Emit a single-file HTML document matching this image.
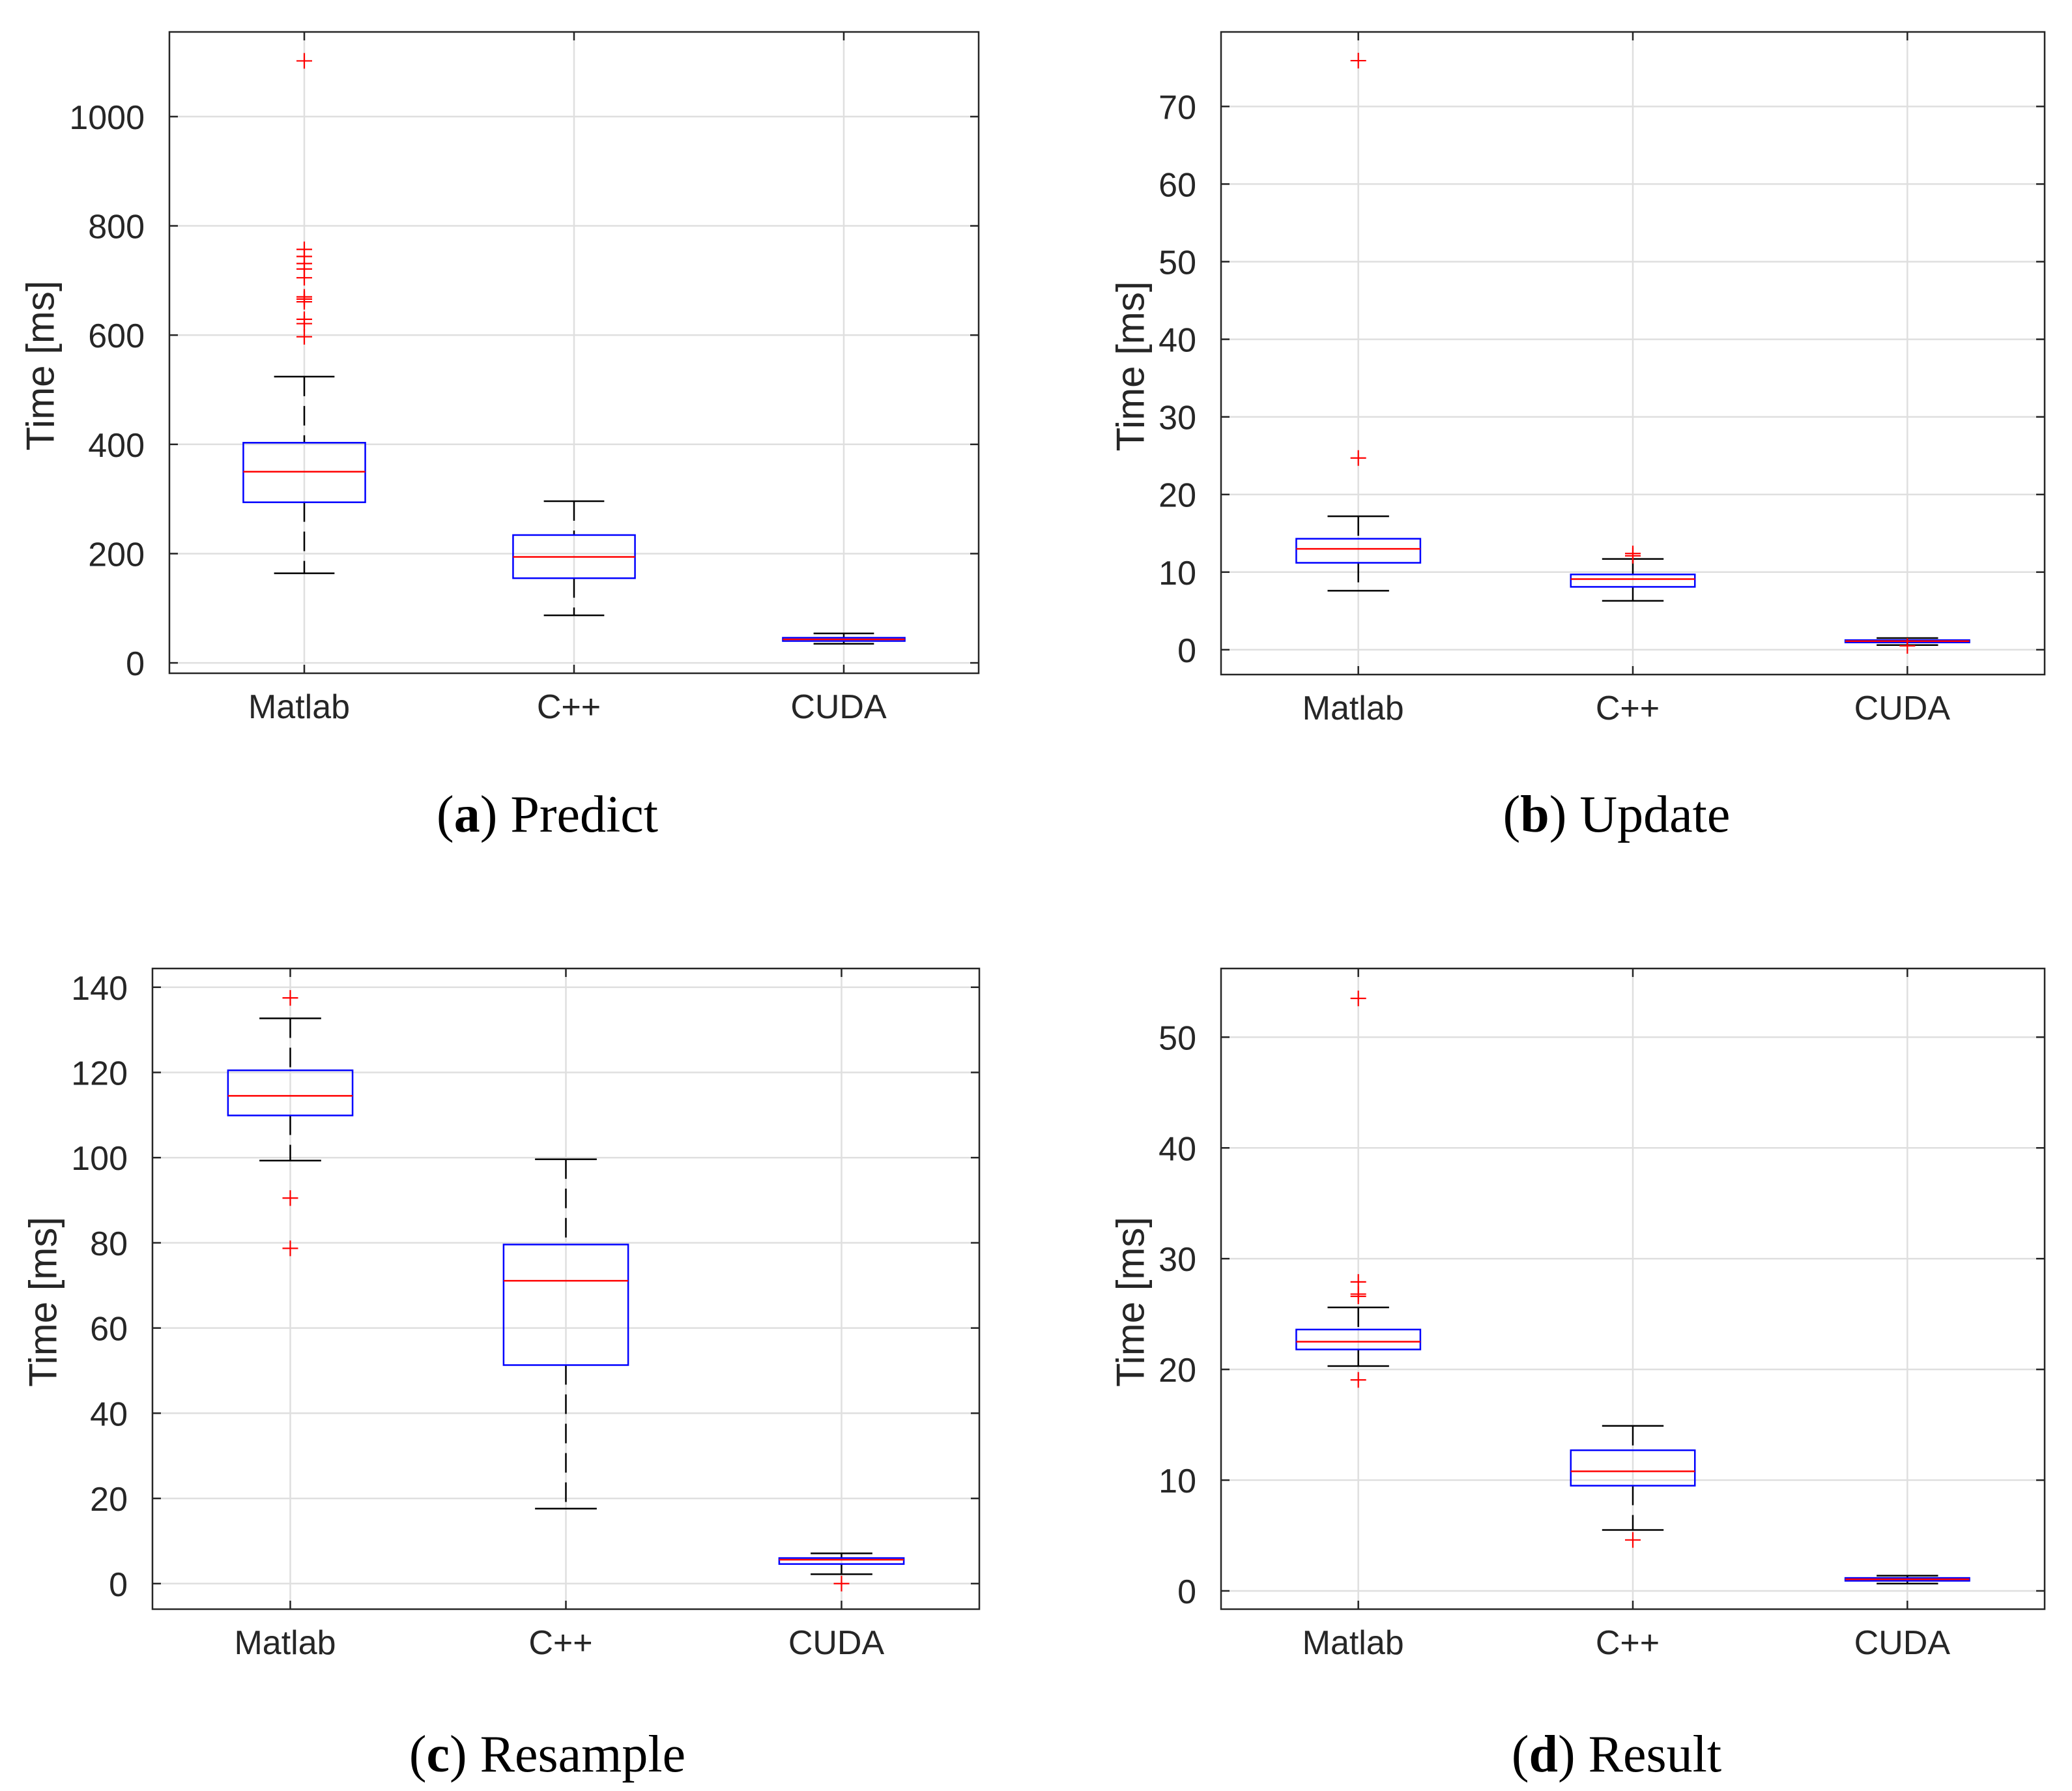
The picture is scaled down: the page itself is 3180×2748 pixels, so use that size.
<!DOCTYPE html>
<html><head><meta charset="utf-8">
<style>
html,body{margin:0;padding:0;background:#fff;}
svg{display:block;}
</style></head>
<body>
<svg id="fig" xmlns="http://www.w3.org/2000/svg" width="3180" height="2748" viewBox="0 0 3180 2748">
<rect x="0" y="0" width="3180" height="2748" fill="#fff"/>
</svg>
<script>
// ---------- data ----------
const categories = ["Matlab", "C++", "CUDA"];

const predictLow = [164, 87, 35];
const predictQ1 = [294, 155, 40];
const predictMedian = [350, 194, 43];
const predictQ3 = [403, 234, 46];
const predictHigh = [524, 296, 54];
const predictOutliers = [[1102, 757, 744, 731, 721, 705, 670, 666, 661, 629, 621, 597], [], []];
const predictTicks = [0, 200, 400, 600, 800, 1000];

const updateLow = [7.6, 6.3, 0.6];
const updateQ1 = [11.2, 8.1, 0.94];
const updateMedian = [13.0, 9.1, 1.1];
const updateQ3 = [14.3, 9.7, 1.24];
const updateHigh = [17.2, 11.7, 1.5];
const updateOutliers = [[75.9, 24.7], [12.4, 12.1], [0.5]];
const updateTicks = [0, 10, 20, 30, 40, 50, 60, 70];

const resampleLow = [99.3, 17.6, 2.2];
const resampleQ1 = [109.9, 51.3, 4.6];
const resampleMedian = [114.5, 71.1, 5.6];
const resampleQ3 = [120.5, 79.6, 6.0];
const resampleHigh = [132.7, 99.6, 7.1];
const resampleOutliers = [[137.5, 90.5, 78.7], [], [0]];
const resampleTicks = [0, 20, 40, 60, 80, 100, 120, 140];

const resultLow = [20.3, 5.5, 0.66];
const resultQ1 = [21.8, 9.5, 0.91];
const resultMedian = [22.5, 10.8, 1.05];
const resultQ3 = [23.6, 12.7, 1.17];
const resultHigh = [25.6, 14.9, 1.37];
const resultOutliers = [[53.5, 27.9, 26.8, 26.6, 19.05], [4.6], []];
const resultTicks = [0, 10, 20, 30, 40, 50];

// ---------- drawing ----------
const NS = "http://www.w3.org/2000/svg";
const svg = document.getElementById("fig");
function mk(tag, attrs, parent) {
  const e = document.createElementNS(NS, tag);
  for (const k in attrs) e.setAttribute(k, attrs[k]);
  (parent || svg).appendChild(e);
  return e;
}

function drawPanel(p) {
  const g = mk("g", {});
  
  
  const xs = v => p.x0 + (v - 0.5) / 3 * (p.x1 - p.x0);
  const ys = v => p.y1 - (v - p.ymin) / (p.ymax - p.ymin) * (p.y1 - p.y0);
  const sp = (p.x1 - p.x0) / 3;
  p.ticks.forEach(t => {
    const l = mk("line", {x1: p.x0, x2: p.x1, y1: ys(t), y2: ys(t), stroke: "#dfdfdf", "stroke-width": 2.5}, g);
    
    
  });
  categories.forEach((c, i) => {
    const l = mk("line", {x1: xs(i + 1), x2: xs(i + 1), y1: p.y0, y2: p.y1, stroke: "#dfdfdf", "stroke-width": 2.5}, g);
    
    
  });
  p.ticks.forEach(t => {
    const y = ys(t);
    mk("line", {x1: p.x0, x2: p.x0 + 13, y1: y, y2: y, stroke: "#262626", "stroke-width": 2.5}, g);
    mk("line", {x1: p.x1 - 13, x2: p.x1, y1: y, y2: y, stroke: "#262626", "stroke-width": 2.5}, g);
    const tx = mk("text", {x: p.x0 - 38, y: y + 19, "text-anchor": "end", "font-family": "Liberation Sans, sans-serif", "font-size": 52, fill: "#262626"}, g);
    tx.textContent = t;
    
    
  });
  categories.forEach((c, i) => {
    const x = xs(i + 1);
    mk("line", {x1: x, x2: x, y1: p.y1, y2: p.y1 - 13, stroke: "#262626", "stroke-width": 2.5}, g);
    mk("line", {x1: x, x2: x, y1: p.y0, y2: p.y0 + 13, stroke: "#262626", "stroke-width": 2.5}, g);
    const tx = mk("text", {x: x - 8, y: p.y1 + 69, "text-anchor": "middle", "font-family": "Liberation Sans, sans-serif", "font-size": 52, fill: "#262626"}, g);
    tx.textContent = c;
    
    
  });
  categories.forEach((c, i) => {
    const x = xs(i + 1), hw = 0.226 * sp, cw = 0.112 * sp;
    const bg = mk("g", {}, g);
    
    
    mk("line", {x1: x, x2: x, y1: ys(p.high[i]), y2: ys(p.q3[i]), stroke: "#000", "stroke-width": 2.5, "stroke-dasharray": "30,15"}, bg);
    mk("line", {x1: x, x2: x, y1: ys(p.q1[i]), y2: ys(p.low[i]), stroke: "#000", "stroke-width": 2.5, "stroke-dasharray": "30,15"}, bg);
    mk("line", {x1: x - cw, x2: x + cw, y1: ys(p.high[i]), y2: ys(p.high[i]), stroke: "#000", "stroke-width": 2.5}, bg);
    mk("line", {x1: x - cw, x2: x + cw, y1: ys(p.low[i]), y2: ys(p.low[i]), stroke: "#000", "stroke-width": 2.5}, bg);
    mk("rect", {x: x - hw, y: ys(p.q3[i]), width: 2 * hw, height: Math.max(0.5, ys(p.q1[i]) - ys(p.q3[i])), fill: "none", stroke: "#0000ff", "stroke-width": 2.5}, bg);
    mk("line", {x1: x - hw, x2: x + hw, y1: ys(p.med[i]), y2: ys(p.med[i]), stroke: "#ff0000", "stroke-width": 2.5}, bg);
    p.out[i].forEach(v => {
      const y = ys(v);
      const o = mk("path", {d: `M${x - 12} ${y}H${x + 12}M${x} ${y - 12}V${y + 12}`, stroke: "#ff0000", "stroke-width": 2.2, fill: "none"}, bg);
      
      
    });
  });
  const fr = mk("rect", {x: p.x0, y: p.y0, width: p.x1 - p.x0, height: p.y1 - p.y0, fill: "none", stroke: "#262626", "stroke-width": 2.5}, g);
  
  
  const yl = mk("text", {x: 0, y: 0, transform: `translate(${p.ylx},${(p.y0 + p.y1) / 2 + 20}) rotate(-90)`, "text-anchor": "middle", "dominant-baseline": "central", "font-family": "Liberation Sans, sans-serif", "font-size": 60, fill: "#262626"}, g);
  yl.textContent = "Time [ms]";
  
  
  const cap = mk("text", {x: p.capx, y: p.capy, "text-anchor": "middle", "font-family": "Liberation Serif, serif", "font-size": 80, fill: "#000"}, g);
  cap.innerHTML = `(<tspan font-weight="bold">${p.letter}</tspan>) ${p.title}`;
  
  
}

drawPanel({key: "predict", letter: "a", title: "Predict", x0: 260, x1: 1502, y0: 49, y1: 1033, ymin: -19, ymax: 1155,
  ticks: predictTicks, low: predictLow, q1: predictQ1, med: predictMedian, q3: predictQ3, high: predictHigh, out: predictOutliers,
  ylx: 62, capx: 840, capy: 1276});
drawPanel({key: "update", letter: "b", title: "Update", x0: 1874, x1: 3138, y0: 49, y1: 1035, ymin: -3.2, ymax: 79.6,
  ticks: updateTicks, low: updateLow, q1: updateQ1, med: updateMedian, q3: updateQ3, high: updateHigh, out: updateOutliers,
  ylx: 1735, capx: 2481, capy: 1276});
drawPanel({key: "resample", letter: "c", title: "Resample", x0: 234, x1: 1503, y0: 1486, y1: 2469, ymin: -6.0, ymax: 144.4,
  ticks: resampleTicks, low: resampleLow, q1: resampleQ1, med: resampleMedian, q3: resampleQ3, high: resampleHigh, out: resampleOutliers,
  ylx: 66, capx: 840, capy: 2718});
drawPanel({key: "result", letter: "d", title: "Result", x0: 1874, x1: 3138, y0: 1486, y1: 2469, ymin: -1.65, ymax: 56.2,
  ticks: resultTicks, low: resultLow, q1: resultQ1, med: resultMedian, q3: resultQ3, high: resultHigh, out: resultOutliers,
  ylx: 1735, capx: 2481, capy: 2718});
</script>
</body></html>
